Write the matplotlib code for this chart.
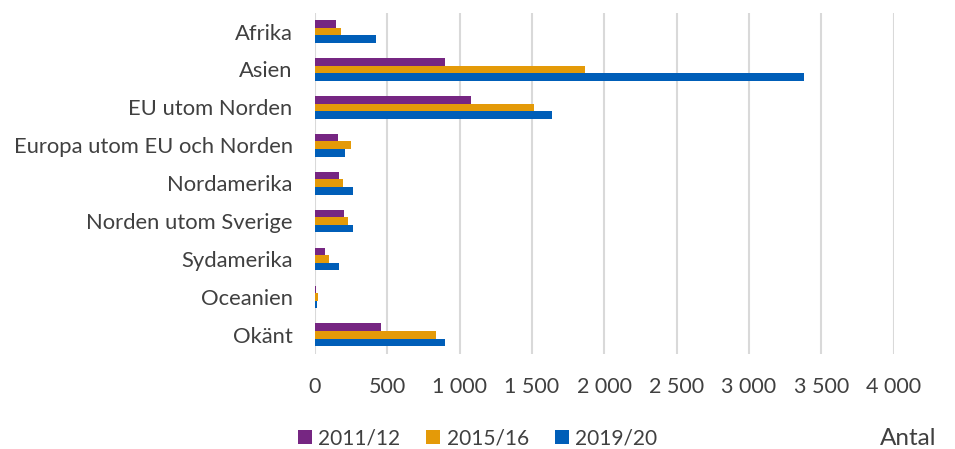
import matplotlib.pyplot as plt
import numpy as np
from matplotlib.ticker import FuncFormatter

plt.rcParams['font.family'] = ['Lato', 'DejaVu Sans']

categories = ['Afrika', 'Asien', 'EU utom Norden', 'Europa utom EU och Norden',
              'Nordamerika', 'Norden utom Sverige', 'Sydamerika', 'Oceanien', 'Okänt']
v2011 = [145, 896, 1080, 158, 165, 204, 68, 8, 455]
v2015 = [182, 1864, 1516, 250, 192, 230, 98, 24, 840]
v2019 = [420, 3380, 1637, 209, 264, 261, 163, 15, 900]
series = ['2011/12', '2015/16', '2019/20']
colors = ['#762682', '#E49A08', '#005EB8']

fig = plt.figure(figsize=(9.55, 4.49), dpi=100)
ax = fig.add_axes([0.3298, 0.212, 0.606, 0.76])

y = np.arange(len(categories))
h = 0.2
for i, (vals, lab, col) in enumerate(zip([v2011, v2015, v2019], series, colors)):
    ax.barh(y + (i - 1) * h, vals, height=h, color=col, label=lab, zorder=3)

ax.set_ylim(len(categories) - 0.5, -0.5)
ax.set_yticks(y)
ax.set_yticklabels(categories, fontsize=15.8, color='#404040')
ax.set_xlim(0, 4000)
ax.set_xticks(np.arange(0, 4001, 500))
ax.xaxis.set_major_formatter(FuncFormatter(lambda v, p: f'{int(v):,}'.replace(',', ' ')))
ax.tick_params(axis='x', labelsize=15.5, labelcolor='#404040', length=0, pad=17)
ax.tick_params(axis='y', length=0, pad=16)
ax.grid(axis='x', color='#D9D9D9', linewidth=1.5, zorder=0)
for s in ax.spines.values():
    s.set_visible(False)

fig.legend(loc='center', bbox_to_anchor=(0.5, 0.024), ncol=3, frameon=False,
           fontsize=15, handlelength=0.67, handleheight=0.67, handletextpad=0.3,
           columnspacing=1.25, labelcolor='#404040')
fig.text(0.981, 0.024, 'Antal', ha='right', va='center', fontsize=17.5, color='#404040')

fig.savefig('out.png', dpi=100)
